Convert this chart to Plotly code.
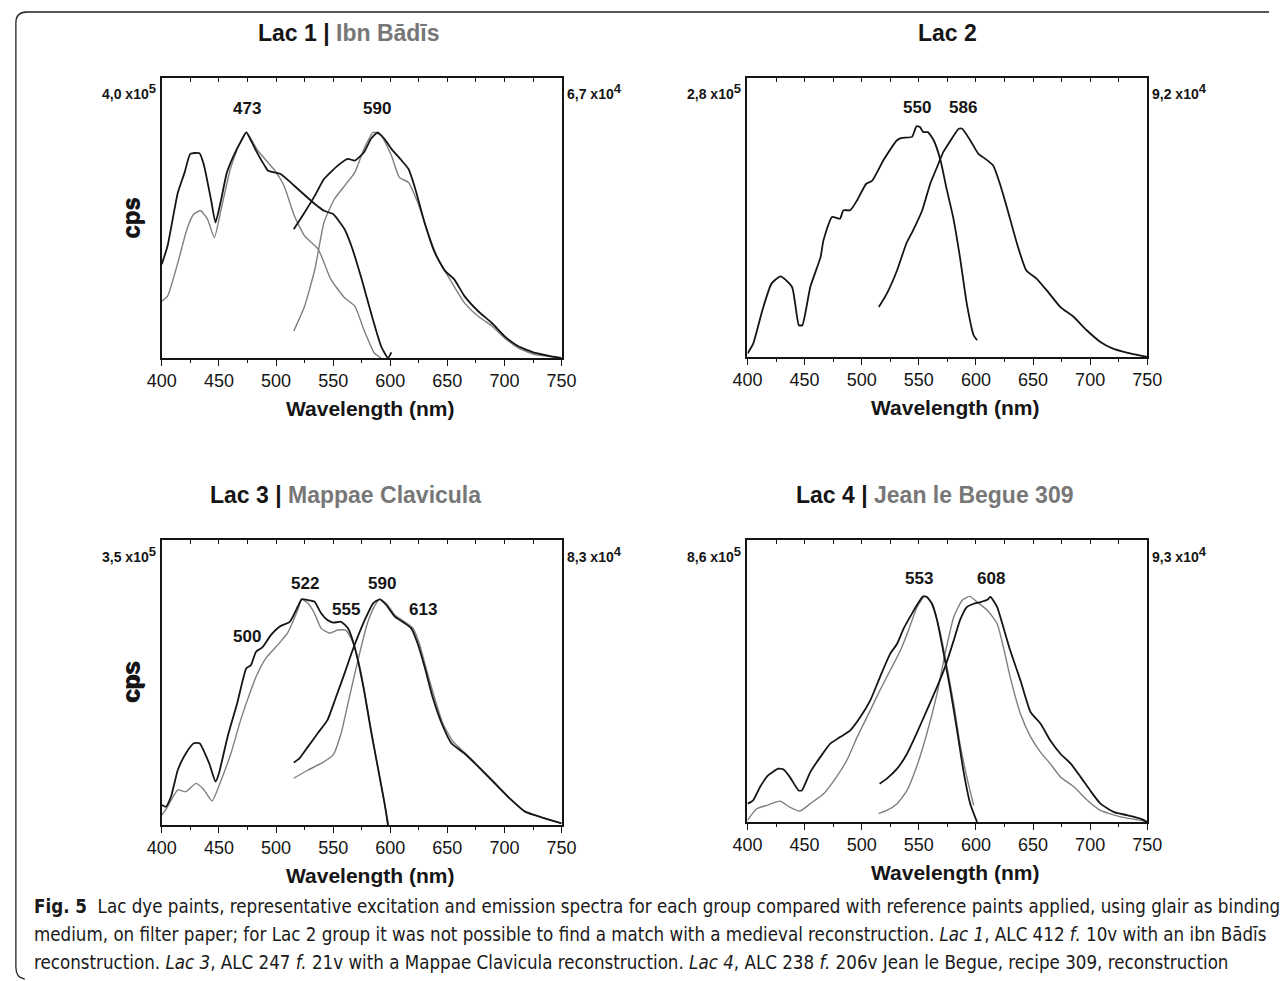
import plotly.graph_objects as go

W, H = 1284, 981

# ---------------- data (relative intensity, 1 = top of frame) ----------------
lac1_ex_x = [400,405,414,420,425,433,437,443,447,452,457,465,469,474,478,484,490,493,504,516,534,542,550,560,566,575,584,592,598,601]
lac1_ex_y = [0.335,0.40,0.59,0.663,0.729,0.731,0.687,0.567,0.484,0.567,0.663,0.741,0.771,0.806,0.777,0.729,0.687,0.669,0.657,0.615,0.55,0.526,0.514,0.46,0.40,0.281,0.149,0.042,0.0,0.02]
lac1_ref_ex_x = [400,405,414,422,428,434,440,446,452,460,468,474,484,499,507,516,525,537,548,560,569,577,586,592]
lac1_ref_ex_y = [0.203,0.221,0.34,0.46,0.514,0.526,0.496,0.43,0.532,0.675,0.765,0.806,0.741,0.669,0.615,0.508,0.436,0.388,0.281,0.215,0.185,0.10,0.018,0.0]
lac1_em_x = [515.5,525,534,542,554,563,569,577,583,589,595,601,610,616,622,630,639,648,656,665,677,689,700,712,727,741,750]
lac1_em_y = [0.46,0.52,0.58,0.639,0.687,0.711,0.705,0.735,0.782,0.806,0.782,0.747,0.705,0.675,0.603,0.484,0.376,0.311,0.281,0.221,0.167,0.125,0.078,0.042,0.018,0.006,0.0]
lac1_ref_em_x = [515.5,525,534,542,551,560,569,577,585,592,601,608,616,624,633,642,654,665,677,689,700,712,727,750]
lac1_ref_em_y = [0.096,0.185,0.317,0.484,0.567,0.615,0.663,0.747,0.806,0.794,0.723,0.645,0.627,0.556,0.448,0.352,0.269,0.197,0.149,0.114,0.072,0.036,0.012,0.0]

lac2_ex_x = [400,405,413,421,429,439,445,448,455,464,466.5,474,481,484,490,496,504,509,519,531,535,544,548,551,554,558,563,569,574,580,586,592,598,601]
lac2_ex_y = [0.012,0.048,0.167,0.263,0.289,0.251,0.114,0.114,0.251,0.358,0.418,0.502,0.496,0.526,0.526,0.562,0.621,0.631,0.705,0.777,0.785,0.789,0.827,0.824,0.806,0.806,0.777,0.705,0.609,0.502,0.358,0.191,0.078,0.06]
lac2_em_x = [515,522,531,539,545,553,560,566,571.5,577,585,588,595,602,608,615,621,627,636,644,653,662,674,685,697,709,720,732,750]
lac2_em_y = [0.179,0.227,0.311,0.406,0.454,0.526,0.621,0.681,0.735,0.771,0.818,0.818,0.777,0.729,0.711,0.687,0.621,0.538,0.406,0.311,0.281,0.239,0.179,0.146,0.096,0.054,0.030,0.016,0.0]

lac3_ex_x = [400,403.5,408,414,421,428,433,441.5,447,450,457.6,466,474,478,482.5,488,495.6,503,512,519,522.5,528,533.6,539.5,545,550,557,563,567,571.6,577.5,583,589,595,598]
lac3_ex_y = [0.07,0.064,0.099,0.193,0.251,0.287,0.287,0.216,0.152,0.181,0.31,0.427,0.55,0.561,0.608,0.623,0.667,0.696,0.713,0.766,0.792,0.789,0.784,0.743,0.719,0.71,0.713,0.69,0.649,0.579,0.462,0.333,0.205,0.076,0.0]
lac3_ref_ex_x = [400,405,414,421,430,437,444,452,460.5,469,475,482.5,491,501.5,510,519,522.5,528,533.6,539.5,547,554,561,567,571.6,577.5,583,589,595,598.5]
lac3_ref_ex_y = [0.035,0.064,0.123,0.117,0.146,0.123,0.084,0.158,0.251,0.368,0.439,0.52,0.585,0.632,0.673,0.754,0.792,0.778,0.743,0.69,0.673,0.684,0.684,0.643,0.585,0.468,0.339,0.205,0.076,0.0]
lac3_em_x = [515.5,520.5,528,536.5,545,552.6,560,566,571.6,579,585,591,596.5,604,612.6,618.4,624,630,637,645,653.5,665,677,691.5,706,718,732.5,750]
lac3_em_y = [0.219,0.234,0.275,0.322,0.368,0.45,0.532,0.602,0.661,0.731,0.778,0.792,0.772,0.731,0.708,0.69,0.637,0.556,0.45,0.357,0.287,0.251,0.205,0.146,0.088,0.047,0.027,0.006]
lac3_ref_em_x = [515.5,528,539.5,550,557,563,569,574.6,580,586,590.6,596.5,604,612.6,620,625.5,631,638.5,646,655,665,677,691.5,706,718,732.5,750]
lac3_ref_em_y = [0.164,0.193,0.216,0.246,0.322,0.427,0.532,0.626,0.708,0.766,0.792,0.778,0.737,0.713,0.69,0.637,0.556,0.45,0.357,0.292,0.254,0.207,0.149,0.088,0.047,0.027,0.006]

lac4_ex_x = [400,405,411,418,427,431.6,437,444.7,447.6,455,463.7,472.5,481,490,498.8,507.5,516,525,531,536.7,544,550,553.7,557,561.6,566,571.8,577.7,583.5,589,595,601]
lac4_ex_y = [0.065,0.077,0.124,0.165,0.189,0.186,0.16,0.112,0.112,0.177,0.23,0.278,0.301,0.325,0.372,0.431,0.514,0.597,0.632,0.686,0.739,0.78,0.8,0.798,0.774,0.715,0.597,0.467,0.325,0.183,0.065,0.0]
lac4_ref_ex_x = [400,408,417,428.6,437,446,455,466.6,478,487,496,507.5,516,525,534,541,548.4,555,558.6,563,569,574.7,580.6,586,592,598]
lac4_ref_ex_y = [0.006,0.047,0.059,0.074,0.053,0.039,0.065,0.1,0.16,0.219,0.301,0.396,0.467,0.538,0.609,0.68,0.762,0.8,0.792,0.757,0.668,0.55,0.42,0.278,0.16,0.059]
lac4_em_x = [515.7,522,531,539.7,548,557,566,573,580.6,586,592,598,604,610,612.7,618.6,624,630,639,647.8,656.5,665,674,683,691.6,700,709,721,732.5,744,750]
lac4_em_y = [0.136,0.154,0.189,0.242,0.313,0.396,0.479,0.55,0.644,0.715,0.762,0.774,0.78,0.788,0.798,0.762,0.691,0.609,0.502,0.39,0.349,0.29,0.242,0.207,0.16,0.112,0.065,0.035,0.024,0.012,0.0]
lac4_ref_em_x = [514.8,522,531,539.7,548,557,566,573,580.6,588,594.6,601,610,618.6,624,630,639,648,656.5,665,674,686,697.5,709,726.6,744,750]
lac4_ref_em_y = [0.03,0.041,0.065,0.112,0.195,0.313,0.455,0.597,0.727,0.786,0.8,0.78,0.751,0.703,0.621,0.514,0.384,0.301,0.248,0.207,0.16,0.124,0.077,0.041,0.018,0.006,0.0]

x_ticks = [400, 450, 500, 550, 600, 650, 700, 750]

panel_titles = [
    ("Lac 1 | ", "Ibn Bādīs"),
    ("Lac 2", ""),
    ("Lac 3 | ", "Mappae Clavicula"),
    ("Lac 4 | ", "Jean le Begue 309"),
]
left_scale = [("4,0 x10", "5"), ("2,8 x10", "5"), ("3,5 x10", "5"), ("8,6 x10", "5")]
right_scale = [("6,7 x10", "4"), ("9,2 x10", "4"), ("8,3 x10", "4"), ("9,3 x10", "4")]

peaks = [
    [(474.5, 0.89, "473"), (588, 0.89, "590")],
    [(548, 0.896, "550"), (589, 0.896, "586")],
    [(525, 0.846, "522"), (593, 0.848, "590"), (561, 0.757, "555"), (628.7, 0.757, "613"), (474.6, 0.661, "500")],
    [(550, 0.863, "553"), (613, 0.863, "608")],
]

series = [
    [(lac1_ref_ex_x, lac1_ref_ex_y, "ref"), (lac1_ref_em_x, lac1_ref_em_y, "ref"),
     (lac1_ex_x, lac1_ex_y, "obj"), (lac1_em_x, lac1_em_y, "obj")],
    [(lac2_ex_x, lac2_ex_y, "obj"), (lac2_em_x, lac2_em_y, "obj")],
    [(lac3_ref_ex_x, lac3_ref_ex_y, "ref"), (lac3_ref_em_x, lac3_ref_em_y, "ref"),
     (lac3_ex_x, lac3_ex_y, "obj"), (lac3_em_x, lac3_em_y, "obj")],
    [(lac4_ref_ex_x, lac4_ref_ex_y, "ref"), (lac4_ref_em_x, lac4_ref_em_y, "ref"),
     (lac4_ex_x, lac4_ex_y, "obj"), (lac4_em_x, lac4_em_y, "obj")],
]

# ---------------- layout geometry (target pixels in the picture) ----------------
boxes = [  # left, right, top, bottom
    (161, 561, 78, 358),
    (747, 1147, 78, 357),
    (161, 561, 540, 825),
    (747, 1147, 540, 822),
]
title_pos = [(348, 33), (947, 33), (345, 495), (934, 495)]

# the captured picture maps page x to 14.1 + 0.9772*x; compensate horizontally
SX, OX = 0.9772, 14.1


def px(x):
    return (x - OX) / SX / W


def py(y):
    return 1 - y / H


FONT = "Liberation Sans, Arial, sans-serif"
BLACK = "#151515"
GRAY = "#7f7f7f"

fig = go.Figure()
annotations = []
layout_axes = {}


def scale_label(base, exp):
    return f"<b>{base}<sup><span style='font-size:13px'>{exp}</span></sup></b>"


for i, (l, r, t, b) in enumerate(boxes):
    n = i + 1
    xa = "x" if n == 1 else f"x{n}"
    ya = "y" if n == 1 else f"y{n}"
    xt = f"x{n + 4}"
    xkey = "xaxis" if n == 1 else f"xaxis{n}"
    ykey = "yaxis" if n == 1 else f"yaxis{n}"
    layout_axes[xkey] = dict(
        domain=[px(l), px(r)], anchor=ya, range=[400, 750],
        tickmode="array", tickvals=x_ticks, ticks="outside", ticklen=6, tickwidth=1.3,
        tickcolor=BLACK, showline=True, linecolor=BLACK, linewidth=1.6, mirror=True,
        showgrid=False, zeroline=False,
        tickfont=dict(family=FONT, size=18, color=BLACK),
        minor=dict(tickmode="linear", tick0=425, dtick=50, ticks="outside", ticklen=3,
                   tickwidth=1.2, tickcolor=BLACK, showgrid=False),
    )
    layout_axes[f"xaxis{n + 4}"] = dict(
        overlaying=xa, side="top", anchor=ya, range=[400, 750],
        tickmode="linear", tick0=400, dtick=25, ticks="inside", ticklen=4, tickwidth=1.2,
        tickcolor=BLACK, showticklabels=False, showline=False, showgrid=False, zeroline=False,
    )
    layout_axes[ykey] = dict(
        domain=[py(b), py(t)], anchor=xa, range=[0, 1],
        showticklabels=False, ticks="", showline=True, linecolor=BLACK, linewidth=1.6,
        mirror=True, showgrid=False, zeroline=False,
    )

    for xs, ys, kind in series[i]:
        fig.add_trace(go.Scatter(
            x=xs, y=ys, xaxis=xa, yaxis=ya, mode="lines", showlegend=False,
            line=dict(color=BLACK if kind == "obj" else GRAY,
                      width=1.8 if kind == "obj" else 1.4, shape="spline", smoothing=0.5),
            hoverinfo="skip",
        ))
    fig.add_trace(go.Scatter(x=[400], y=[0], xaxis=xt, yaxis=ya, mode="markers",
                             marker=dict(opacity=0), showlegend=False, hoverinfo="skip"))

    for xv, yv, txt in peaks[i]:
        annotations.append(dict(x=xv, y=yv, xref=xa, yref=ya, text=f"<b>{txt}</b>",
                                showarrow=False, font=dict(family=FONT, size=17, color=BLACK)))
    annotations.append(dict(x=px(l - 4), y=py(t + 14), xref="paper", yref="paper",
                            xanchor="right", yanchor="middle", showarrow=False,
                            text=scale_label(*left_scale[i]),
                            font=dict(family=FONT, size=14, color=BLACK)))
    annotations.append(dict(x=px(r + 3), y=py(t + 14), xref="paper", yref="paper",
                            xanchor="left", yanchor="middle", showarrow=False,
                            text=scale_label(*right_scale[i]),
                            font=dict(family=FONT, size=14, color=BLACK)))
    a, bb = panel_titles[i]
    ttext = f"<b>{a}</b>" + (f"<b><span style='color:#777777'>{bb}</span></b>" if bb else "")
    tx, ty = title_pos[i]
    annotations.append(dict(x=px(tx), y=py(ty), xref="paper", yref="paper",
                            xanchor="center", yanchor="middle", showarrow=False, text=ttext,
                            font=dict(family=FONT, size=23, color=BLACK)))
    annotations.append(dict(x=px(130), y=py((t + b) / 2), xref="paper", yref="paper",
                            xanchor="center", yanchor="middle", showarrow=False, textangle=-90,
                            text="<b>cps</b>", font=dict(family=FONT, size=24, color=BLACK)))
    annotations.append(dict(x=px((l + r) / 2 + 8), y=py(b + 50), xref="paper", yref="paper",
                            xanchor="center", yanchor="middle", showarrow=False,
                            text="<b>Wavelength (nm)</b>", font=dict(family=FONT, size=21, color=BLACK)))

CAP_FONT = "DejaVu Sans Condensed, Liberation Sans Narrow, sans-serif"
caption_lines = [
    "<b>Fig. 5</b>  Lac dye paints, representative excitation and emission spectra for each group compared with reference paints applied, using glair as binding",
    "medium, on filter paper; for Lac 2 group it was not possible to find a match with a medieval reconstruction. <i>Lac 1</i>, ALC 412 <i>f.</i> 10v with an ibn Bādīs",
    "reconstruction. <i>Lac 3</i>, ALC 247 <i>f.</i> 21v with a Mappae Clavicula reconstruction. <i>Lac 4</i>, ALC 238 <i>f.</i> 206v Jean le Begue, recipe 309, reconstruction",
]
for k, line in enumerate(caption_lines):
    annotations.append(dict(x=px(31), y=py(906 + 28 * k), xref="paper", yref="paper",
                            xanchor="left", yanchor="middle", showarrow=False, align="left",
                            text=line, font=dict(family=CAP_FONT, size=18.6, color="#1a1a1a")))

fx0 = 0.9 / W  # frame's left edge, as far left as the page allows
fx1 = 1.0
shapes = [dict(
    type="path", xref="paper", yref="paper",
    path=(f"M {fx1},{py(12)} L {fx0 + 11 / W},{py(12)} Q {fx0},{py(12)} {fx0},{py(23)} "
          f"L {fx0},{py(967)} Q {fx0},{py(978)} {fx0 + 9 / W},{py(979)}"),
    line=dict(color="#222222", width=1.3),
)]

fig.update_layout(
    width=W, height=H, margin=dict(l=0, r=0, t=0, b=0), autosize=False,
    paper_bgcolor="white", plot_bgcolor="white",
    annotations=annotations, shapes=shapes, **layout_axes,
)

fig.write_html("out.html")
